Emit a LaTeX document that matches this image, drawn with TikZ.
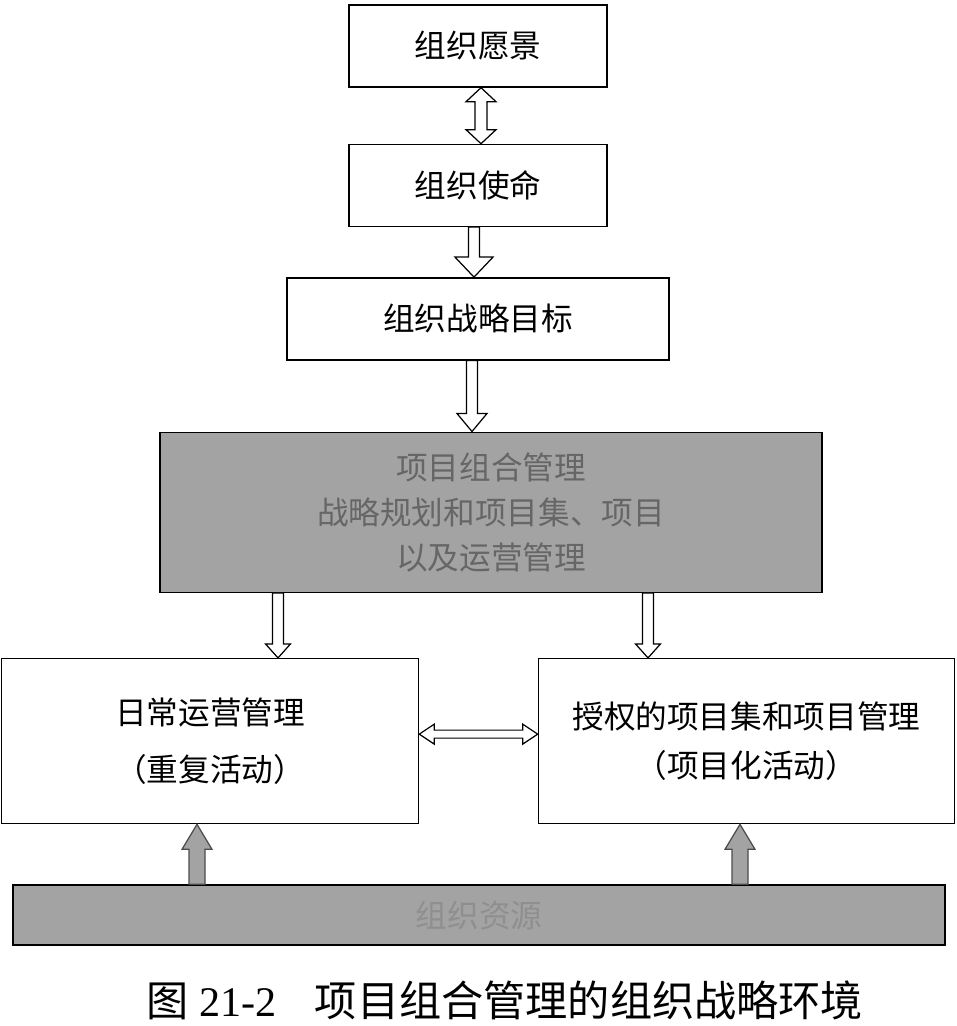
\documentclass[tikz,border=0pt]{standalone}
\usepackage{fontspec}
\setmainfont{Liberation Serif}
\newfontfamily\cjk{Noto Sans CJK SC}
\usepackage{tikz}
\usetikzlibrary{positioning, calc}

\begin{document}
\begin{tikzpicture}[font=\cjk\fontsize{18}{25.6}\selectfont,
  box/.style={draw, line width=0.8pt, align=center, inner sep=3pt},
  gbox/.style={box, fill=black!36, text=black!60},
  shaftw/.store in=\shaftw, headw/.store in=\headw, headl/.store in=\headl,
  shaftw=0.11cm, headw=0.32cm, headl=0.32cm,
  % hollow block arrows, vertical and horizontal
  varr/.style={draw, line width=0.7pt, fill=white, to path={
    let \p1=(\tikztostart), \p2=(\tikztotarget), \n1={sign(\y2-\y1)} in
    (\x1-\shaftw,\y1) -- (\x1-\shaftw,\y2-\n1*\headl) -- (\x1-\headw,\y2-\n1*\headl) -- (\x1,\y2)
    -- (\x1+\headw,\y2-\n1*\headl) -- (\x1+\shaftw,\y2-\n1*\headl) -- (\x1+\shaftw,\y1) -- cycle}},
  vdarr/.style={draw, line width=0.7pt, fill=white, to path={
    let \p1=(\tikztostart), \p2=(\tikztotarget), \n1={sign(\y2-\y1)} in
    (\x1,\y1) -- (\x1-\headw,\y1+\n1*\headl) -- (\x1-\shaftw,\y1+\n1*\headl) -- (\x1-\shaftw,\y2-\n1*\headl)
    -- (\x1-\headw,\y2-\n1*\headl) -- (\x1,\y2) -- (\x1+\headw,\y2-\n1*\headl) -- (\x1+\shaftw,\y2-\n1*\headl)
    -- (\x1+\shaftw,\y1+\n1*\headl) -- (\x1+\headw,\y1+\n1*\headl) -- cycle}},
  hdarr/.style={draw, line width=0.7pt, fill=white, to path={
    let \p1=(\tikztostart), \p2=(\tikztotarget), \n1={sign(\x2-\x1)} in
    (\x1,\y1) -- (\x1+\n1*\headl,\y1+\headw) -- (\x1+\n1*\headl,\y1+\shaftw) -- (\x2-\n1*\headl,\y1+\shaftw)
    -- (\x2-\n1*\headl,\y1+\headw) -- (\x2,\y1) -- (\x2-\n1*\headl,\y1-\headw) -- (\x2-\n1*\headl,\y1-\shaftw)
    -- (\x1+\n1*\headl,\y1-\shaftw) -- (\x1+\n1*\headl,\y1-\headw) -- cycle}},
  uarr/.style={varr, fill=black!36, draw=black!70, shaftw=0.16cm, headw=0.3cm, headl=0.5cm}]
\useasboundingbox (0,0) rectangle (19.14,-20.52);
% strategy chain
\node[box, minimum width=5.16cm, minimum height=1.64cm] (vision) at (9.56,-0.92) {组织愿景};
\node[box, minimum width=5.16cm, minimum height=1.64cm, below=1.12cm of vision] (mission) {组织使命};
\node[box, minimum width=7.64cm, minimum height=1.64cm, below=1.0cm of mission] (goals) {组织战略目标};
\node[gbox, minimum width=13.24cm, minimum height=3.2cm, below=1.42cm of goals, xshift=0.26cm] (port)
  {项目组合管理\\战略规划和项目集、项目\\以及运营管理};
\draw[vdarr, shaftw=0.12cm, headw=0.3cm, headl=0.28cm] ([xshift=0.06cm]vision.south) to (mission.north);
\draw[varr, headw=0.38cm, headl=0.4cm] ([xshift=-0.08cm]mission.south) to (goals.north);
\draw[varr, headw=0.3cm, headl=0.36cm] ([xshift=-0.12cm]goals.south) to (port.north);
% operations and projects
\node[box, minimum width=8.34cm, minimum height=3.3cm, below left=1.3cm and -5.2cm of port] (ops)
  {日常运营管理\\[7pt]（重复活动）};
\node[box, minimum width=8.32cm, minimum height=3.3cm, below right=1.3cm and -5.7cm of port] (prog)
  {授权的项目集和项目管理\\[2pt]（项目化活动）};
\draw[varr, headw=0.25cm, headl=0.28cm] ([xshift=-4.26cm]port.south) to (ops.north);
\draw[varr, headw=0.25cm, headl=0.28cm] ([xshift=3.14cm]port.south) to (prog.north);
\draw[hdarr, shaftw=0.08cm, headw=0.2cm, headl=0.3cm] ([yshift=0.14cm]ops.east) to (prog.west);
% resources
\node[gbox, minimum width=18.64cm, minimum height=1.2cm, text=black!44] (res) at (9.58,-18.3) {组织资源};
\draw[uarr] ([xshift=-5.64cm]res.north) to (ops.south);
\draw[uarr] ([xshift=5.22cm]res.north) to (prog.south);
\node[font=\fontsize{24}{28}\selectfont] (cap) at (10.1,-20.0)
  {{\cjk 图} 21-2\hspace{0.9em}{\cjk 项目组合管理的组织战略环境}};
\end{tikzpicture}
\end{document}
